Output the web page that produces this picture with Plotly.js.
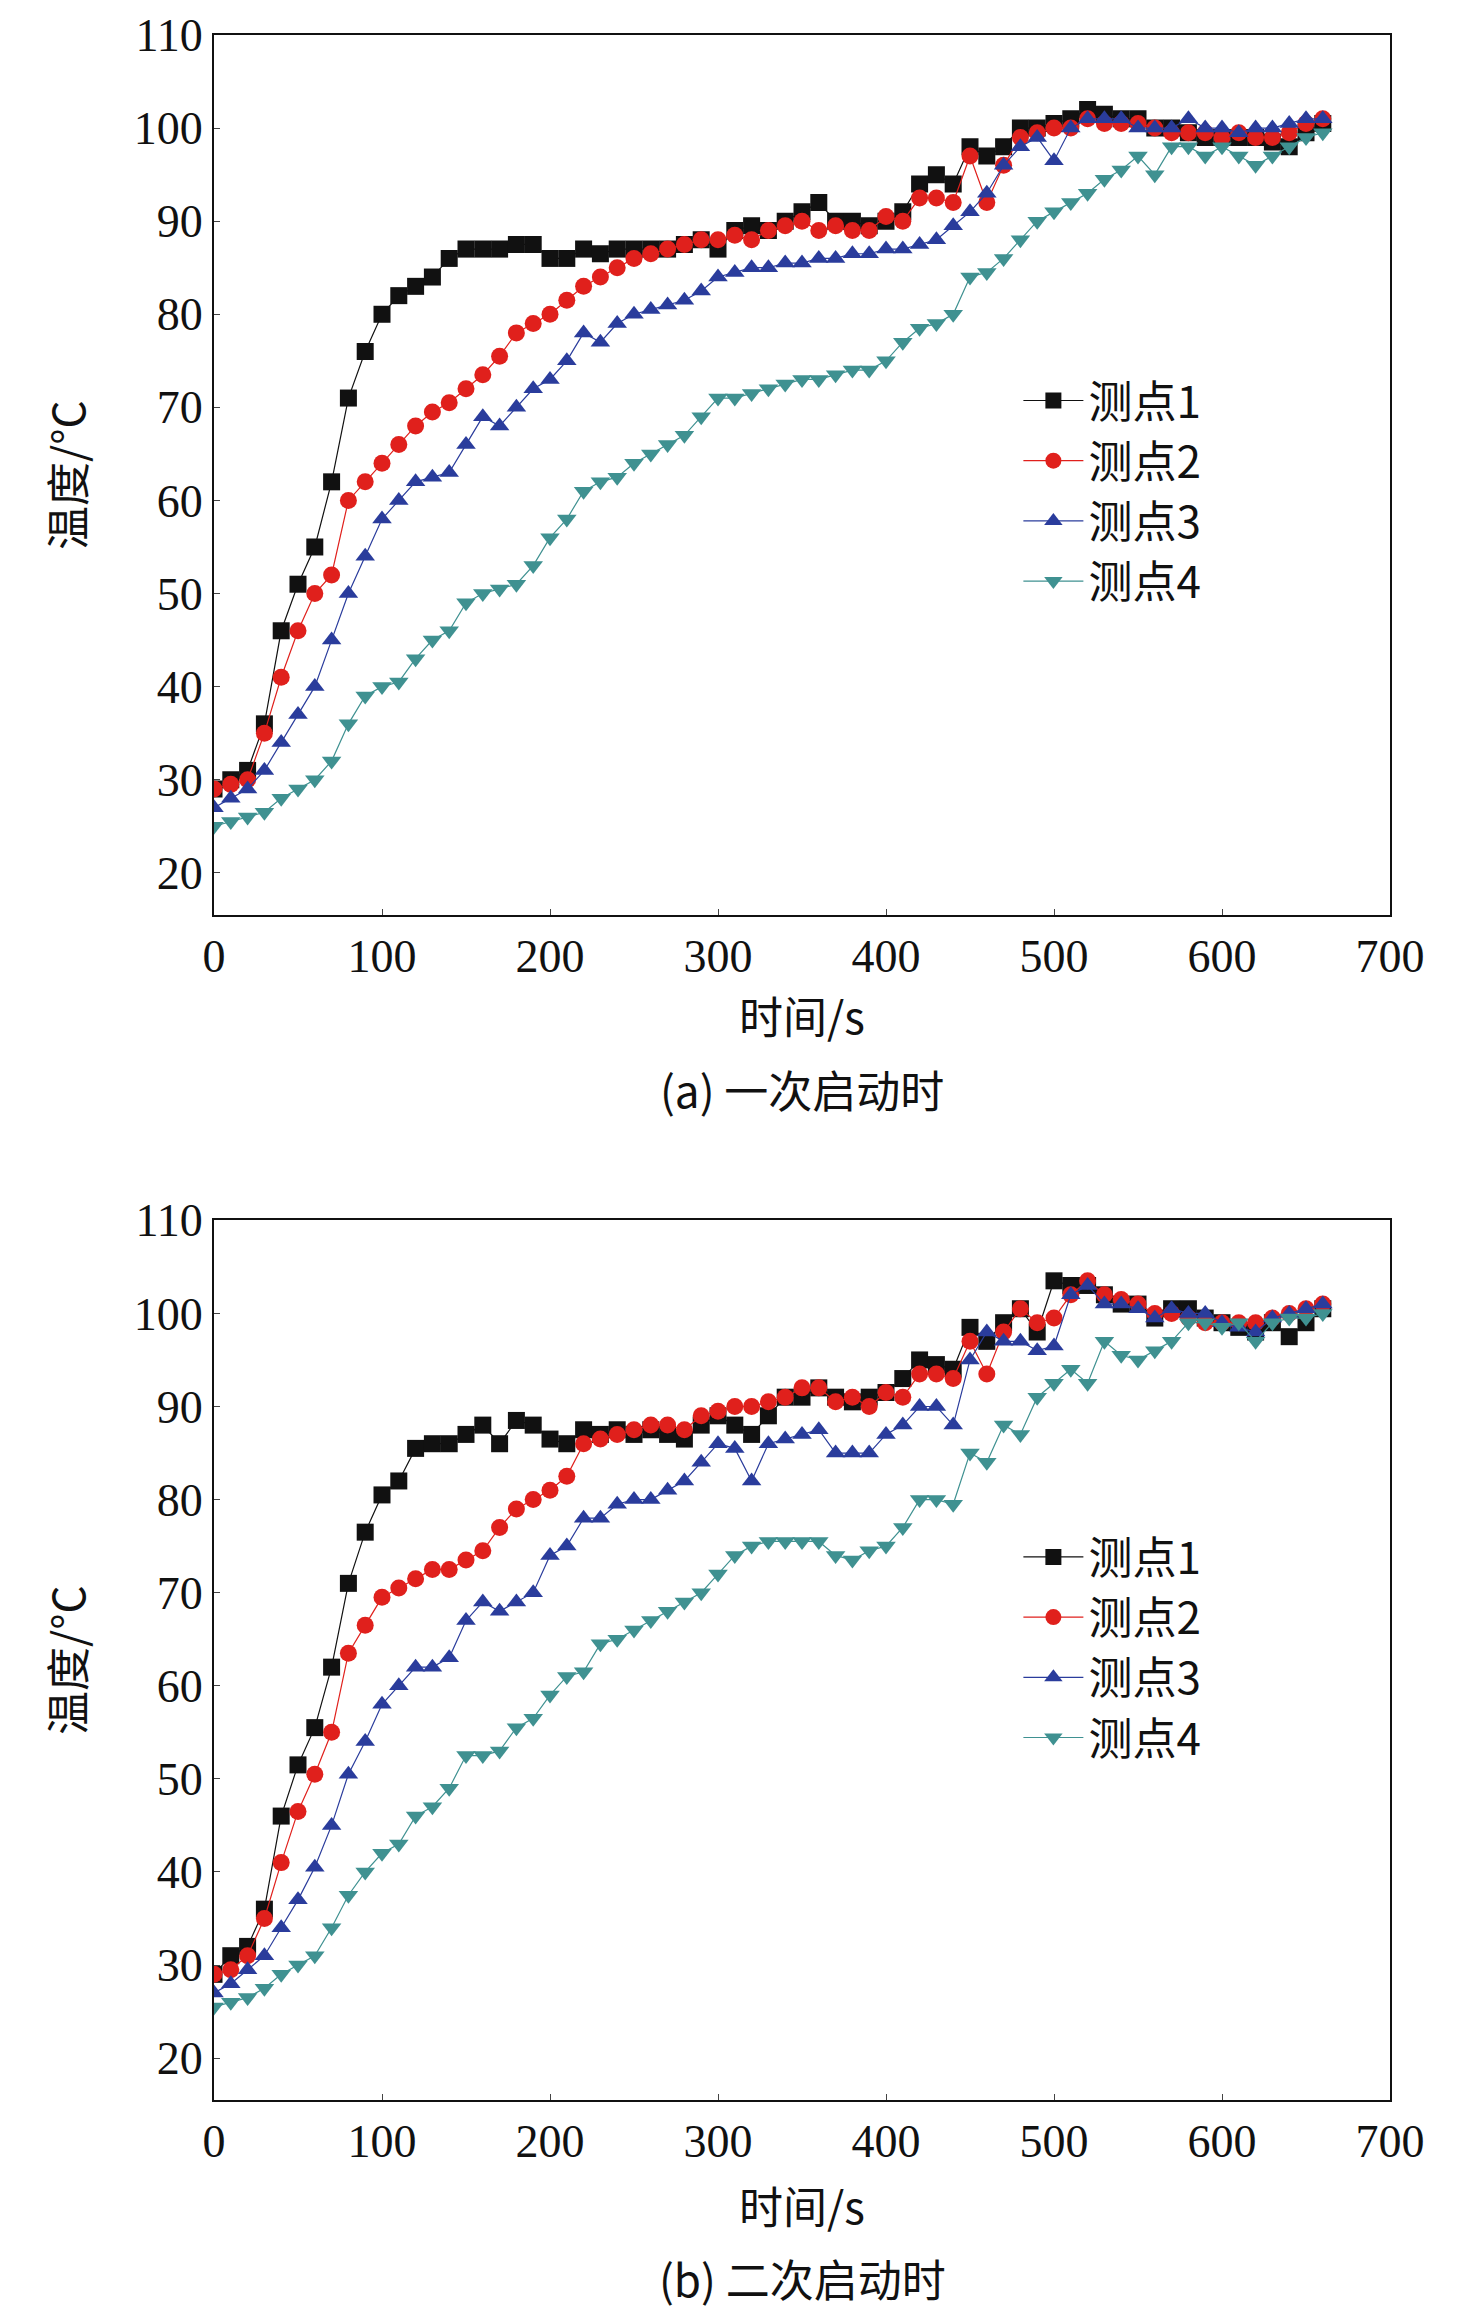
<!DOCTYPE html>
<html>
<head>
<meta charset="utf-8">
<script src="https://cdn.plot.ly/plotly-3.0.1.min.js"></script>
<style>body{margin:0;background:#fff}</style>
</head>
<body>
<div id="chart" style="width:1476px;height:2318px"></div>
<script>
// time axis (s)
var times = [0,10,20,30,40,50,60,70,80,90,100,110,120,130,140,150,160,170,180,190,200,210,220,230,240,250,260,270,280,290,300,310,320,330,340,350,360,370,380,390,400,410,420,430,440,450,460,470,480,490,500,510,520,530,540,550,560,570,580,590,600,610,620,630,640,650,660];

// (a) first start
var a1 = [29,30,31,36,46,51,55,62,71,76,80,82,83,84,86,87,87,87,87.5,87.5,86,86,87,86.5,87,87,87,87,87.5,88,87,89,89.5,89,90,91,92,90,90,89.5,90,91,94,95,94,98,97,98,100,100,100.5,101,102,101.5,101,101,100,100,99.5,99,99,99,99,98.5,98,99.5,100.5];
var a2 = [29,29.5,30,35,41,46,50,52,60,62,64,66,68,69.5,70.5,72,73.5,75.5,78,79,80,81.5,83,84,85,86,86.5,87,87.5,88,88,88.5,88,89,89.5,90,89,89.5,89,89,90.5,90,92.5,92.5,92,97,92,96,99,99.5,100,100,101,100.5,100.5,100.5,100,99.5,99.5,99.5,99,99.5,99,99,99.5,100.5,101];
var a3 = [27,28,29,31,34,37,40,45,50,54,58,60,62,62.5,63,66,69,68,70,72,73,75,78,77,79,80,80.5,81,81.5,82.5,84,84.5,85,85,85.5,85.5,86,86,86.5,86.5,87,87,87.5,88,89.5,91,93,96,98,99,96.5,100,101,101,101,100,100,100,101,100,100,99.5,100,100,100.5,101,101];
var a4 = [25,25.5,26,26.5,28,29,30,32,36,39,40,40.5,43,45,46,49,50,50.5,51,53,56,58,61,62,62.5,64,65,66,67,69,71,71,71.5,72,72.5,73,73,73.5,74,74,75,77,78.5,79,80,84,84.5,86,88,90,91,92,93,94.5,95.5,97,95,98,98,97,98,97,96,97,98,99,99.5];

// (b) second start
var b1 = [29,31,32,36,46,51.5,55.5,62,71,76.5,80.5,82,85.5,86,86,87,88,86,88.5,88,86.5,86,87.5,87,87.5,87,87.5,87,86.5,88,89,88,87,89,91,91,92,91,90.5,91,91.5,93,95,94.5,94,98.5,97,99,100.5,98,103.5,103,103,102,101,101,99.5,100.5,100.5,99.5,99,98.5,98,99,97.5,99,100.5];
var b2 = [29,29.5,31,35,41,46.5,50.5,55,63.5,66.5,69.5,70.5,71.5,72.5,72.5,73.5,74.5,77,79,80,81,82.5,86,86.5,87,87.5,88,88,87.5,89,89.5,90,90,90.5,91,92,92,90.5,91,90,91.5,91,93.5,93.5,93,97,93.5,98,100.5,99,99.5,102,103.5,102,101.5,101,100,100,99.5,99,99,99,99,99.5,100,100.5,101];
var b3 = [27,28,29.5,31,34,37,40.5,45,50.5,54,58,60,62,62,63,67,69,68,69,70,74,75,78,78,79.5,80,80,81,82,84,86,85.5,82,86,86.5,87,87.5,85,85,85,87,88,90,90,88,95,98,97,97,96,96.5,102,103,101,101,100.5,99.5,100.5,100,100,99,98.5,98,99.5,100,100.5,101];
var b4 = [25.5,26,26.5,27.5,29,30,31,34,37.5,40,42,43,46,47,49,52.5,52.5,53,55.5,56.5,59,61,61.5,64.5,65,66,67,68,69,70,72,74,75,75.5,75.5,75.5,75.5,74,73.5,74.5,75,77,80,80,79.5,85,84,88,87,91,92.5,94,92.5,97,95.5,95,96,97,99,99,98.5,99,97,99,99.5,99.5,100];

var names = ['测点1','测点2','测点3','测点4'];
var colors = ['#111111','#e0201c','#2a3c9c','#3f9191'];
var symbols = ['square','circle','triangle-up','triangle-down'];

var font = {family: 'Liberation Serif, Noto Sans CJK SC, serif', size: 46, color: '#111'};
var cjk = {family: 'Noto Sans CJK SC, Liberation Serif, serif', size: 44, color: '#111'};

var data = [];
[[a1,a2,a3,a4],[b1,b2,b3,b4]].forEach(function (set, p) {
  set.forEach(function (ys, i) {
    data.push({
      x: times, y: ys, name: names[i], type: 'scatter', mode: 'lines+markers',
      xaxis: p ? 'x2' : 'x', yaxis: p ? 'y2' : 'y',
      legend: p ? 'legend2' : 'legend',
      line: {color: colors[i], width: 1.2},
      marker: {color: colors[i], symbol: symbols[i], size: 17}
    });
  });
});

function xax(anchor) {
  return {range: [0, 700], dtick: 100, anchor: anchor, showline: true, mirror: true,
    linecolor: '#111', linewidth: 2, ticks: 'inside', ticklen: 6, showgrid: false,
    zeroline: false, tickfont: font};
}
function yax(anchor, dom) {
  return {range: [15.5, 110], tick0: 20, dtick: 10, anchor: anchor, domain: dom,
    showline: true, mirror: true, linecolor: '#111', linewidth: 2, ticks: 'inside',
    ticklen: 6, showgrid: false, zeroline: false, tickfont: font};
}
function leg(y) {
  return {x: 0.684, y: y, xanchor: 'left', yanchor: 'top', font: cjk,
    bgcolor: 'rgba(0,0,0,0)', tracegroupgap: 0, itemwidth: 60};
}

var layout = {
  width: 1476, height: 2318,
  margin: {l: 214, r: 86, t: 35, b: 218},
  paper_bgcolor: '#fff', plot_bgcolor: '#fff',
  xaxis: xax('y'), yaxis: yax('x', [0.574, 1]),
  xaxis2: xax('y2'), yaxis2: yax('x2', [0, 0.426]),
  legend: leg(0.84), legend2: leg(0.28),
  annotations: [
    {text: '时间/s', x: 0.5, y: 1015},
    {text: '(a) 一次启动时', x: 0.5, y: 1089},
    {text: '时间/s', x: 0.5, y: 2205},
    {text: '(b) 二次启动时', x: 0.5, y: 2278},
    {text: '温度/°C', x: 66, y: 475, rot: true},
    {text: '温度/°C', x: 66, y: 1660, rot: true}
  ].map(function (a) {
    return {text: a.text, xref: 'paper', yref: 'paper', showarrow: false,
      x: a.rot ? (a.x - 214) / 1176 : a.x,
      y: 1 - (a.y - 35) / 2065, textangle: a.rot ? -90 : 0,
      xanchor: 'center', yanchor: 'middle', font: cjk};
  })
};

Plotly.newPlot('chart', data, layout, {staticPlot: true});
</script>
</body>
</html>
